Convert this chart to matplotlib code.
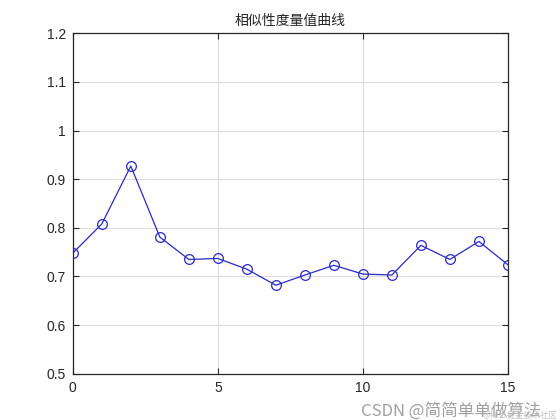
import matplotlib
matplotlib.use('Agg')
import matplotlib.pyplot as plt
from matplotlib.ticker import FuncFormatter

plt.rcParams['font.family'] = ['Noto Sans CJK SC', 'DejaVu Sans']

# 相似性度量值
idx = list(range(16))
sim = [0.748, 0.808, 0.927, 0.781, 0.735, 0.737, 0.715, 0.682,
       0.703, 0.723, 0.705, 0.703, 0.764, 0.735, 0.772, 0.724]
xticks = [0, 5, 10, 15]
yticks = [0.5, 0.6, 0.7, 0.8, 0.9, 1.0, 1.1, 1.2]

fig = plt.figure(figsize=(5.6, 4.2), dpi=100)
ax = fig.add_axes([0.13, 0.11, 0.777, 0.811])

ax.plot(idx, sim, '-o', color='#2a2ac8', lw=0.9, ms=7,
        markerfacecolor='none', markeredgecolor='#2a2ac8', markeredgewidth=0.9)

ax.set_xlim(0, 15)
ax.set_ylim(0.5, 1.2)
ax.set_xticks(xticks)
ax.set_yticks(yticks)
ax.yaxis.set_major_formatter(FuncFormatter(lambda v, p: f'{v:g}'))
ax.tick_params(direction='in', top=True, right=True, length=4, width=0.8,
               labelsize=10, colors='#262626', pad=5)
for lab in ax.get_xticklabels() + ax.get_yticklabels():
    lab.set_family(['Liberation Sans', 'DejaVu Sans'])
ax.grid(True, color='#dcdcdc', lw=0.8)
ax.set_axisbelow(True)
for s in ax.spines.values():
    s.set_linewidth(0.9)
    s.set_color('#262626')

ax.set_title('相似性度量值曲线', fontsize=10, color='#262626', pad=6)

# 水印
fig.text(0.965, 0.0, 'CSDN @简简单单做算法', ha='right', va='bottom',
         fontsize=12, color='#a0a0a0')
fig.text(0.995, 0.001, '@稀土掘金技术社区', ha='right', va='bottom',
         fontsize=6, color='#c0c0c0')

fig.savefig('out.png', dpi=100)
